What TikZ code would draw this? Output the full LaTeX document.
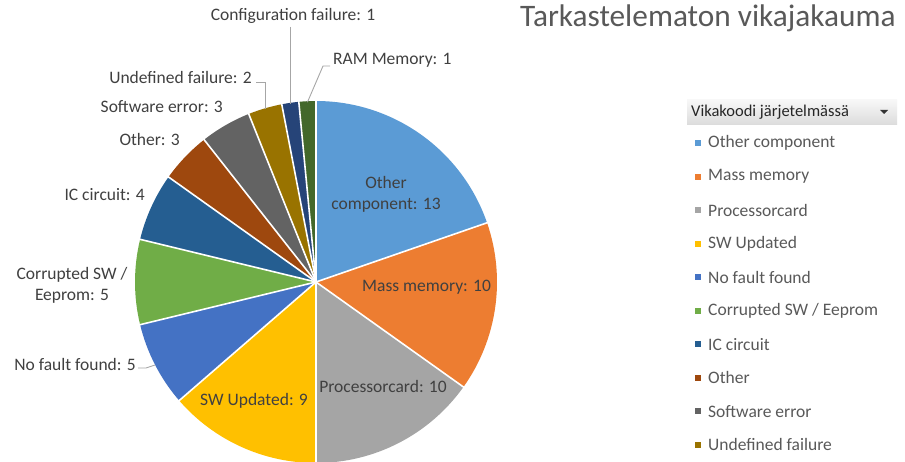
\documentclass[tikz,border=0pt]{standalone}
\usepackage{fontspec}
\setmainfont{Carlito}
\definecolor{cA}{HTML}{5B9BD5}
\definecolor{cB}{HTML}{ED7D31}
\definecolor{cC}{HTML}{A5A5A5}
\definecolor{cD}{HTML}{FFC000}
\definecolor{cE}{HTML}{4472C4}
\definecolor{cF}{HTML}{70AD47}
\definecolor{cG}{HTML}{255E91}
\definecolor{cH}{HTML}{9E480E}
\definecolor{cI}{HTML}{636363}
\definecolor{cJ}{HTML}{997300}
\definecolor{cK}{HTML}{264478}
\definecolor{cL}{HTML}{43682B}
\definecolor{lbl}{HTML}{404040}
\definecolor{leg}{HTML}{595959}
\definecolor{lead}{HTML}{A6A6A6}
\tikzset{
  lab/.style={font=\fontsize{17.5}{21}\selectfont, text=lbl, inner sep=0pt, align=center},
  legtext/.style={font=\fontsize{17.5}{21}\selectfont, text=leg, inner sep=0pt, anchor=west},
  legmark/.style={minimum size=6pt, inner sep=0pt, draw=none},
  leader/.style={draw=lead, line width=0.9pt},
}
\begin{document}
\begin{tikzpicture}[x=1pt,y=1pt]
\useasboundingbox (0,0) rectangle (905,461);
\fill[white] (0,0) rectangle (905,461);
\clip (0,0) rectangle (905,461);
\coordinate (C) at (316,179);
% slices
\foreach \a/\b/\c in {0/13/cA,13/23/cB,23/33/cC,33/42/cD,42/47/cE,47/52/cF,52/56/cG,56/59/cH,59/62/cI,62/64/cJ,64/65/cK,65/66/cL}{
  \pgfmathsetmacro\sa{90-\a/66*360}
  \pgfmathsetmacro\ea{90-\b/66*360}
  \fill[\c] (C) -- ([shift={(C)}]\sa:181) arc[start angle=\sa, end angle=\ea, radius=181] -- cycle;
}
\foreach \a in {0,13,23,33,42,47,52,56,59,62,64,65}{
  \pgfmathsetmacro\sa{90-\a/66*360}
  \draw[white, line width=1.6pt] (C) -- ([shift={(C)}]\sa:182);
}
% title
\node[font=\fontsize{31.3}{35}\selectfont, text=leg, inner sep=0pt, anchor=west] (title) at (520,443) {Tarkastelematon vikajakauma};
% inside labels
\node[lab] (l1) at (386,267) {Other\\component: 13};
\node[lab, anchor=west] (l2) at (362,174) {Mass memory: 10};
\node[lab] (l3) at (383,75) {Processorcard: 10};
\node[lab] (l4) at (254,60) {SW Updated: 9};
% outside labels
\node[lab, anchor=east] (l5) at (136,97) {No fault found: 5};
\node[lab] (l6) at (72,176) {Corrupted SW /\\Eeprom: 5};
\node[lab, anchor=east] (l7) at (145,266) {IC circuit: 4};
\node[lab, anchor=east] (l8) at (180,322) {Other: 3};
\node[lab, anchor=east] (l9) at (223,354) {Software error: 3};
\node[lab, anchor=east] (l10) at (252,384) {Undefined failure: 2};
\node[lab] (l11) at (293,445) {Configuration failure: 1};
\node[lab, anchor=west] (l12) at (333,401) {RAM Memory: 1};
% leader lines
\pgfmathsetmacro\ang{90-44.5/66*360}
\coordinate (p5) at ([shift={(C)}]\ang:181);
\pgfmathsetmacro\ang{90-63/66*360}
\coordinate (p10) at ([shift={(C)}]\ang:180);
\pgfmathsetmacro\ang{90-64.5/66*360}
\coordinate (p11) at ([shift={(C)}]\ang:180);
\pgfmathsetmacro\ang{90-65.5/66*360}
\coordinate (p12) at ([shift={(C)}]\ang:180);
\draw[leader] (l5.east) ++(2,-4) -- ++(8,0) -- (p5);
\coordinate (u10) at (l10.east);
\draw[leader] ([xshift=4pt,yshift=-5pt]u10) -- ([yshift=-5pt]u10 -| p10) -- (p10);
\draw[leader] ([yshift=-3pt]p11 |- l11.south) -- (p11);
\draw[leader] ([xshift=-3pt,yshift=-6pt]l12.west) -- ++(-7,0) -- (p12);
% legend header
\shade[top color=gray!6, bottom color=gray!28] (687,336) rectangle (897,361);
\node[font=\fontsize{16.5}{20}\selectfont, text=black!85, inner sep=0pt, anchor=west] (hdr) at (691,349) {Vikakoodi järjetelmässä};
\fill[black!80] (880,351) -- (888,351) -- (884,347) -- cycle;
% legend entries
\foreach \i/\c/\t in {0/cA/{Other component},1/cB/{Mass memory},2/cC/{Processorcard},3/cD/{SW Updated},4/cE/{No fault found},5/cF/{Corrupted SW / Eeprom},6/cG/{IC circuit},7/cH/{Other},8/cI/{Software error},9/cJ/{Undefined failure}}{
  \node[legmark, fill=\c] (m\i) at (698,{318-\i*33.55}) {};
  \node[legtext] (t\i) at (708,{318-\i*33.55}) {\t};
}
\end{tikzpicture}
\end{document}
